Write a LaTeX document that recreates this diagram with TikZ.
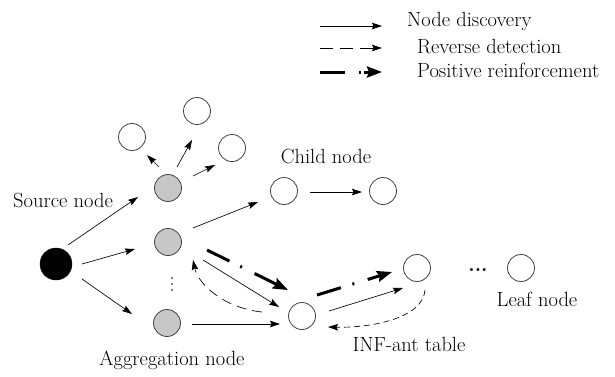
\documentclass[tikz,border=0pt]{standalone}
\usepackage{fontspec}
\usetikzlibrary{arrows.meta,calc}
\begin{document}
\begin{tikzpicture}[x=1pt,y=-1pt,
  lbl/.style={font=\fontsize{20.5}{24}\selectfont, inner sep=0pt},
  wnode/.style={circle, draw=black!75, line width=0.8pt, minimum size=27pt, inner sep=0pt, fill=white},
  gnode/.style={wnode, fill=black!22},
  snode/.style={circle, fill=black, draw=black, minimum size=32pt, inner sep=0pt},
  vdot/.style={circle, fill=black, inner sep=0pt, minimum size=1.8pt},
  nd/.style={line width=0.65pt, -{Stealth[length=10pt,width=6.5pt,inset=1.5pt]}},
  rd/.style={nd, dash pattern=on 6pt off 4pt},
  rdl/.style={nd, dash pattern=on 10pt off 6pt},
  pr/.style={line width=3pt, dash pattern=on 25pt off 12pt on 2pt off 14pt,
     -{Stealth[length=15pt,width=11pt,inset=2pt]}}
]
\useasboundingbox (0,0) rectangle (615,376);

% legend
\coordinate (l1a) at (320,26); \coordinate (l1b) at (382,26);
\coordinate (l2a) at (320,48); \coordinate (l2b) at (382,48);
\coordinate (l3a) at (320,72); \coordinate (l3b) at (382,72);
\draw[nd] (l1a) -- (l1b);
\draw[nd, dash pattern=on 13pt off 7pt] (l2a) -- (l2b);
\draw[pr, dash pattern=on 25pt off 14pt on 2pt off 3pt] (l3a) -- (l3b);
\node[lbl, anchor=base west] (t_nd) at (407,26) {Node discovery};
\node[lbl, anchor=base west] (t_rd) at (417,53) {Reverse detection};
\node[lbl, anchor=base west] (t_pr) at (417,77) {Positive reinforcement};

% nodes
\node[snode] (src) at (56,264) {};
\node[gnode] (a1) at (168,188) {};
\node[gnode] (a2) at (168,242) {};
\node[gnode] (a3) at (167,323) {};
\node[wnode] (t1) at (132,137) {};
\node[wnode] (t2) at (197,111) {};
\node[wnode] (t3) at (232,148) {};
\node[wnode] (c1) at (284,191) {};
\node[wnode] (c2) at (383,191) {};
\node[wnode] (m) at (302,316) {};
\node[wnode] (r) at (417,268) {};
\node[wnode] (leaf) at (521,268) {};

% labels
\node[lbl, anchor=base] (lsrc) at (63,207) {Source node};
\node[lbl, anchor=base] (lchild) at (326,163) {Child node};
\node[lbl, anchor=base] (lagg) at (172,365) {Aggregation node};
\node[lbl, anchor=base] (lleaf) at (537,306) {Leaf node};
\node[lbl, anchor=base] (linf) at (409,351) {INF-ant table};
\node[lbl] (hdots) at (478,270) {\textbf{...}};
\node[vdot] (vd1) at (172,278) {};
\node[vdot] (vd2) at (172,284) {};
\node[vdot] (vd3) at (172,290) {};

% node discovery
\draw[nd] ($(src)+(12,-19)$) -- ($(a1)+(-30,9)$);
\draw[nd] ($(src)+(26,0)$) -- ($(a2)+(-33,7)$);
\draw[nd] ($(src)+(26,15)$) -- ($(a3)+(-35,-9)$);
\draw[nd] ($(a1)+(-9,-21)$) -- ($(t1)+(15,18)$);
\draw[nd] ($(a1)+(9,-21)$) -- ($(t2)+(-5,29)$);
\draw[nd] ($(a1)+(25,-12)$) -- ($(t3)+(-17,17)$);
\draw[nd] ($(a2)+(25,-14)$) -- ($(c1)+(-26,11)$);
\draw[nd] ($(c1)+(26,1)$) -- ($(c2)+(-21,1)$);
\draw[nd] ($(a2)+(35,18)$) -- ($(m)+(-23,-9)$);
\draw[nd] ($(a3)+(25,1)$) -- ($(m)+(-22,8)$);
\draw[nd] ($(m)+(27,-5)$) -- ($(r)+(-14,20)$);

% positive reinforcement
\draw[pr] ($(a2)+(39,8)$) -- ($(m)+(-14,-26)$);
\draw[pr] ($(m)+(15,-21)$) -- ($(r)+(-25,4)$);

% reverse detection
\draw[rdl] ($(m)+(-40,-4)$) .. controls ($(m)+(-78,-8)$) and ($(a2)+(30,42)$) .. ($(a2)+(25,18)$);
\draw[rd] ($(r)+(8,22)$) .. controls ($(r)+(6,50)$) and ($(m)+(70,12)$) .. ($(m)+(26,11)$);
\end{tikzpicture}
\end{document}
